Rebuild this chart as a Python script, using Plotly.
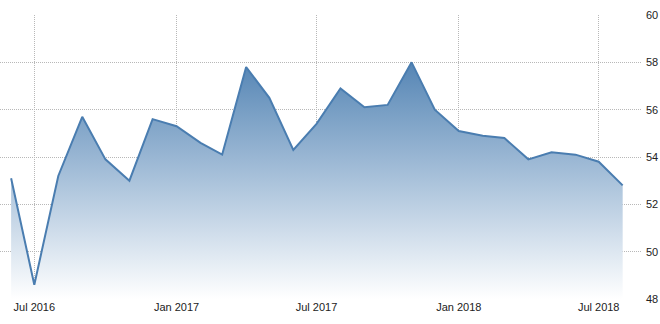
import plotly.graph_objects as go

months = ["2016-06-01", "2016-07-01", "2016-08-01", "2016-09-01", "2016-10-01", "2016-11-01",
          "2016-12-01", "2017-01-01", "2017-02-01", "2017-03-01", "2017-04-01", "2017-05-01",
          "2017-06-01", "2017-07-01", "2017-08-01", "2017-09-01", "2017-10-01", "2017-11-01",
          "2017-12-01", "2018-01-01", "2018-02-01", "2018-03-01", "2018-04-01", "2018-05-01",
          "2018-06-01", "2018-07-01", "2018-08-01"]
values = [53.1, 48.6, 53.2, 55.7, 53.9, 53.0,
          55.6, 55.3, 54.6, 54.1, 57.8, 56.5,
          54.3, 55.4, 56.9, 56.1, 56.2, 58.0,
          56.0, 55.1, 54.9, 54.8, 53.9, 54.2,
          54.1, 53.8, 52.8]
x_ticks = ["2016-07-01", "2017-01-01", "2017-07-01", "2018-01-01", "2018-07-01"]
x_tick_labels = ["Jul 2016", "Jan 2017", "Jul 2017", "Jan 2018", "Jul 2018"]
y_ticks = [48, 50, 52, 54, 56, 58, 60]

fig = go.Figure()
fig.add_trace(go.Scatter(
    x=months, y=values, mode="lines",
    line=dict(color="#4a7db0", width=2),
    fill="tozeroy",
    fillgradient=dict(type="vertical", start=48, stop=58.2,
                      colorscale=[[0, "rgba(255,255,255,1)"], [0.5, "#a8c1da"], [1, "#5283b3"]]),
    hoverinfo="skip",
))

fig.update_layout(
    width=660, height=324,
    margin=dict(l=0, r=19, t=15, b=25),
    paper_bgcolor="white", plot_bgcolor="white",
    showlegend=False,
    font=dict(family="Liberation Sans, Arial, sans-serif", size=11, color="#222222"),
    xaxis=dict(
        type="date",
        range=["2016-05-17 15:00", "2018-08-24 17:00"],
        tickvals=x_ticks, ticktext=x_tick_labels,
        showgrid=True, gridcolor="#b8b8b8", griddash="1px,1px", gridwidth=1,
        showline=False, zeroline=False, ticks="",
    ),
    yaxis=dict(
        side="right", range=[48, 60], tickvals=y_ticks,
        showgrid=True, gridcolor="#b8b8b8", griddash="1px,1px", gridwidth=1,
        showline=False, zeroline=False, ticks="", ticklabelstandoff=4,
    ),
)

fig.write_html("out.html")
